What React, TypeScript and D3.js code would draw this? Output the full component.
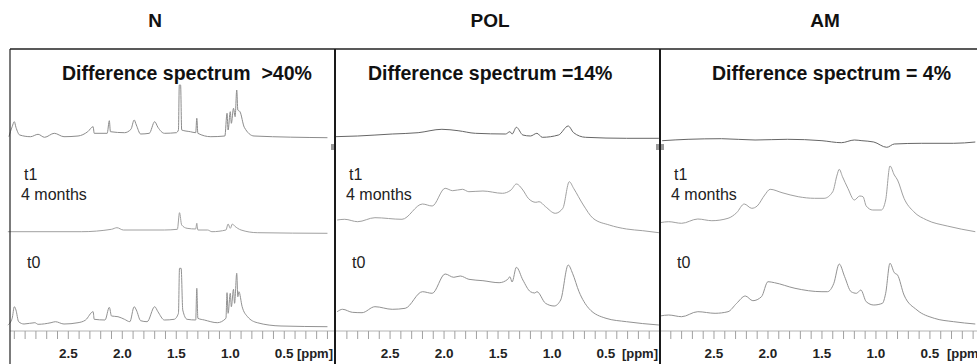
import React from "react";
import * as d3 from "d3";

// panel names and captions
const panelNames = ["N", "POL", "AM"];
const diffCaptions = [
  "Difference spectrum  >40%",
  "Difference spectrum =14%",
  "Difference spectrum = 4%",
];
const tickLabels = [2.5, 2.0, 1.5, 1.0, 0.5];

// spectra as [ppm, intensity]
const nDiff = [
  [3.05, 1.3], [3.02, 11.3], [3.0, 16.3], [2.985, 10.7], [2.95, 3], [2.85, 1.3], [2.78, 3.7],
  [2.72, 0.7], [2.63, 4.7], [2.54, 1.3], [2.41, 2], [2.32, 6.3], [2.27, 11.3], [2.26, 4.7],
  [2.14, 4.7], [2.12, 17.3], [2.11, 6.3], [1.98, 5.3], [1.92, 8.7], [1.89, 18], [1.87, 13],
  [1.83, 4], [1.75, 4.7], [1.7, 16.3], [1.67, 10.7], [1.61, 4.7], [1.5, 5.3], [1.48, 8],
  [1.472, 53], [1.46, 53], [1.45, 8], [1.37, 6.3], [1.32, 5.3], [1.31, 19.7], [1.3, 4.7],
  [1.18, 1.3], [1.05, 2], [1.03, 24.7], [1.02, 8], [1.0, 26.3], [0.99, 14.7], [0.97, 29.7],
  [0.955, 21.3], [0.94, 48], [0.93, 28], [0.91, 26.3], [0.87, 10.7], [0.78, 2], [0.1, 0.3],
];
const nT1 = [
  [3.06, 2.3], [2.38, 2.3], [2.1, 4.7], [2.05, 6.3], [1.99, 4], [1.61, 4], [1.49, 4.7],
  [1.47, 21.3], [1.45, 9], [1.4, 5.7], [1.32, 5], [1.31, 10.7], [1.3, 4], [1.21, 4],
  [1.17, 2.3], [1.04, 4], [1.02, 10], [1.0, 5.7], [0.98, 10], [0.96, 8], [0.9, 4],
  [0.75, 1.3], [0.1, 0.7],
];
const nT0 = [
  [3.06, 3], [3.02, 9.7], [3.0, 21.3], [2.985, 18], [2.96, 6.3], [2.91, 4], [2.81, 5.3],
  [2.78, 3.7], [2.66, 5.3], [2.62, 6.3], [2.54, 4], [2.41, 5.3], [2.34, 8], [2.27, 16.3],
  [2.26, 8.7], [2.16, 8], [2.12, 20.7], [2.1, 12], [2.04, 11.3], [1.98, 8.7], [1.93, 6.3],
  [1.89, 21.3], [1.87, 18], [1.83, 7.3], [1.77, 6.3], [1.7, 21.3], [1.67, 16.3], [1.61, 8],
  [1.52, 8.7], [1.48, 14.7], [1.47, 59.7], [1.455, 59.7], [1.44, 18], [1.4, 8.7], [1.32, 8],
  [1.31, 39.7], [1.3, 9.7], [1.24, 8], [1.12, 5.3], [1.04, 9.7], [1.03, 35.3], [1.02, 14.7],
  [1.0, 34.7], [0.99, 21.3], [0.97, 38.7], [0.96, 24.7], [0.94, 54.7], [0.93, 31.3],
  [0.92, 36.3], [0.89, 21.3], [0.84, 11.3], [0.75, 5.3], [0.53, 2], [0.1, 1.3],
];

const polDiff = [
  [3.01, 1.3], [2.8, 2], [2.48, 4], [2.24, 5.3], [2.02, 8.7], [1.87, 7.3], [1.71, 4.7],
  [1.43, 4], [1.39, 6.3], [1.37, 4], [1.33, 10.7], [1.27, 3], [1.2, 2], [1.14, 4.7],
  [1.09, 0.7], [0.94, 3], [0.85, 12], [0.8, 5.3], [0.69, 0.7], [0.31, -0.3], [0.01, -0.3],
];
const polT1 = [
  [2.99, 14], [2.92, 14.7], [2.8, 12.3], [2.64, 16.3], [2.39, 14.7], [2.2, 30], [2.11, 28],
  [1.99, 45.7], [1.92, 43.3], [1.83, 44.7], [1.77, 42.3], [1.64, 43], [1.46, 40.7],
  [1.38, 44], [1.33, 50], [1.27, 44], [1.22, 35.7], [1.15, 31.7], [1.12, 32.3], [1.06, 27.3],
  [0.97, 20.7], [0.9, 25.7], [0.84, 52.3], [0.8, 45.7], [0.71, 29], [0.62, 15.7],
  [0.47, 9], [0.31, 5], [0.16, 3.3], [0.01, 1.3],
];
const polT0 = [
  [2.99, 16.3], [2.94, 18.7], [2.85, 15.7], [2.76, 15.3], [2.64, 21.3], [2.48, 18.7],
  [2.36, 19.7], [2.2, 36.3], [2.11, 34.7], [1.99, 54], [1.91, 50.7], [1.85, 52], [1.77, 48.7],
  [1.64, 47.3], [1.49, 45.3], [1.41, 48.7], [1.39, 51.3], [1.37, 46], [1.33, 60.7],
  [1.27, 48], [1.2, 36.3], [1.16, 35], [1.14, 36.3], [1.06, 24.7], [0.98, 22], [0.92, 28],
  [0.85, 63], [0.81, 54.7], [0.75, 36.3], [0.66, 19.7], [0.5, 9.7], [0.31, 6.3], [0.01, 3],
];

const amDiff = [
  [2.98, -2.7], [2.74, -1.3], [2.43, -0.7], [2.12, -2], [1.82, -1.3], [1.5, -2.7],
  [1.32, -4.7], [1.2, -2], [1.13, -2.7], [1.02, -4], [0.9, -9.3], [0.83, -6], [0.58, -5.3],
  [0.28, -5.3], [0.08, -4],
];
const amT1 = [
  [3.0, 11.3], [2.92, 12.3], [2.8, 10.7], [2.65, 15], [2.52, 13.3], [2.37, 15.7],
  [2.29, 21.3], [2.22, 30], [2.15, 25.7], [2.1, 28], [2.03, 39], [1.98, 44.7], [1.87, 41.3],
  [1.72, 37.3], [1.57, 35.7], [1.48, 35.7], [1.4, 42.3], [1.36, 59], [1.34, 64.7],
  [1.31, 57.3], [1.26, 45.7], [1.2, 34], [1.15, 38], [1.12, 37.3], [1.09, 28], [1.03, 24],
  [0.95, 24], [0.91, 34], [0.87, 68], [0.83, 59], [0.8, 54], [0.74, 35.7], [0.65, 22.3],
  [0.53, 14], [0.34, 8], [0.08, 2.3],
];
const amT0 = [
  [3.0, 12], [2.92, 13], [2.8, 11.3], [2.65, 16.3], [2.49, 14.7], [2.37, 16.3], [2.29, 24.7],
  [2.21, 32], [2.14, 27.3], [2.06, 31.3], [2.0, 46.3], [1.94, 45.3], [1.75, 39.7],
  [1.5, 36.3], [1.45, 36.3], [1.39, 44.7], [1.34, 64], [1.29, 51.3], [1.23, 36.3],
  [1.18, 34.7], [1.14, 38], [1.09, 26.3], [1.02, 23], [0.94, 24.7], [0.91, 34.7],
  [0.87, 64.7], [0.83, 55.3], [0.8, 53], [0.74, 33], [0.62, 18], [0.46, 9.7], [0.28, 6.3],
  [0.08, 4],
];

const W = 977;
const H = 364;
const panelW = 325;
const panelX = [10, 335, 660];
const panelDomain = [[3.04, 0.03], [3.01, 0.0], [3.0, -0.01]];
const baseDiff = 138;
const baseT1 = 234;
const baseT0 = 328;
const axisY = 331;

const panels = [
  { diff: nDiff, t1: nT1, t0: nT0, diffColor: "#8c8c8c" },
  { diff: polDiff, t1: polT1, t0: polT0, diffColor: "#666" },
  { diff: amDiff, t1: amT1, t0: amT0, diffColor: "#666" },
];
const titleX = [155, 490, 825];
const captionX = [62, 368, 712];

const boldFont = "'Liberation Sans', Arial, sans-serif";
const narrowFont = "'Liberation Sans Narrow', 'Arial Narrow', 'Liberation Sans', sans-serif";

function Panel({ i }: { i: number }) {
  const p = panels[i];
  const x0 = panelX[i];
  const x = d3.scaleLinear().domain(panelDomain[i]).range([x0, x0 + panelW]);
  const mk = (base: number) => {
    const y = d3.scaleLinear().domain([0, 60]).range([base, base - 60]);
    return d3
      .line<number[]>()
      .x((d) => x(d[0]))
      .y((d) => y(d[1]))
      .curve(d3.curveMonotoneX);
  };
  const [d0, d1] = panelDomain[i];
  const ticks = d3.range(30, 0, -1).map((k) => k / 10).filter((t) => t < d0 - 0.02 && t > d1 + 0.02);

  return (
    <g>
      <text x={titleX[i]} y={27} textAnchor="middle" fontFamily={boldFont} fontWeight="bold" fontSize={19} fill="#111">
        {panelNames[i]}
      </text>
      <text x={captionX[i]} y={80} fontFamily={boldFont} fontWeight="bold" fontSize={19.5} fill="#111" style={{ whiteSpace: "pre" }}>
        {diffCaptions[i]}
      </text>

      <path d={mk(baseDiff)(p.diff) || ""} fill="none" stroke={p.diffColor} strokeWidth={1} />
      <path d={mk(baseT1)(p.t1) || ""} fill="none" stroke="#a0a0a0" strokeWidth={1} />
      <path d={mk(baseT0)(p.t0) || ""} fill="none" stroke="#929292" strokeWidth={1} />

      <text x={x0 + 14} y={180} fontFamily={boldFont} fontSize={16} fill="#222">t1</text>
      <text x={x0 + 11} y={200} fontFamily={boldFont} fontSize={16} fill="#222">4 months</text>
      <text x={x0 + 17} y={268} fontFamily={boldFont} fontSize={16} fill="#222">t0</text>

      <line x1={x0} x2={x0 + panelW} y1={axisY} y2={axisY} stroke="#b4b4b4" strokeWidth={1} />
      {ticks.map((t) => (
        <line key={t} x1={x(t)} x2={x(t)} y1={axisY} y2={axisY + 8} stroke="#a0a0a0" strokeWidth={1} />
      ))}
      {tickLabels.map((t) => (
        <text key={t} x={x(t)} y={358} textAnchor="middle" fontFamily={narrowFont} fontWeight="bold" fontSize={13.5} fill="#222">
          {t.toFixed(1)}
        </text>
      ))}
      <text x={x0 + 323} y={358} textAnchor="end" fontFamily={narrowFont} fontWeight="bold" fontSize={13} fill="#222">
        [ppm]
      </text>
    </g>
  );
}

export default function App() {
  return (
    <svg width={W} height={H} style={{ position: "absolute", left: 0, top: 0, background: "#fff" }}>
      <rect width={W} height={H} fill="#fff" />
      {panels.map((_, i) => (
        <Panel key={i} i={i} />
      ))}
      {/* small edge marks seen at the panel borders */}
      <rect x={331} y={144} width={3} height={6} fill="#999" />
      <rect x={656} y={144} width={3} height={6} fill="#999" />
      <rect x={661} y={144} width={3} height={6} fill="#999" />
      <line x1={10} x2={W} y1={49} y2={49} stroke="#222" strokeWidth={1.5} />
      <line x1={10} x2={10} y1={49} y2={H} stroke="#222" strokeWidth={1.2} />
      <line x1={335} x2={335} y1={49} y2={H} stroke="#1a1a1a" strokeWidth={2} />
      <line x1={660} x2={660} y1={49} y2={H} stroke="#1a1a1a" strokeWidth={2} />
    </svg>
  );
}
